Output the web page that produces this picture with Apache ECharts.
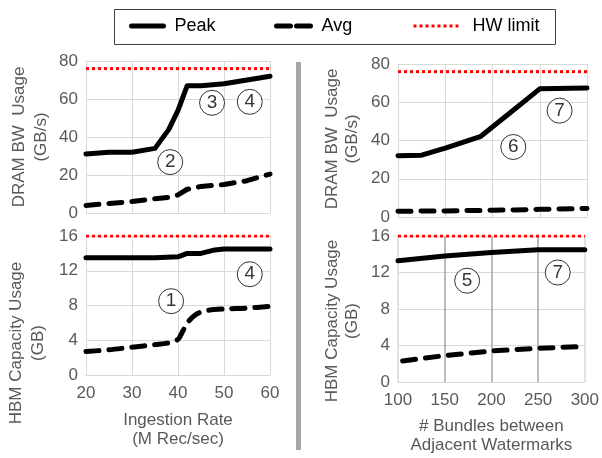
<!DOCTYPE html>
<html><head><meta charset="utf-8">
<script src="https://cdn.jsdelivr.net/npm/echarts@6/dist/echarts.min.js"></script>
<style>html,body{margin:0;padding:0;background:#fff}#c{width:602px;height:458px}</style>
</head><body><div id="c"></div>
<script>
// ---- data ----
const rateTicks = [20, 30, 40, 50, 60];
const bundleTicks = [100, 150, 200, 250, 300];
const dramTicks = [0, 20, 40, 60, 80];
const hbmTicks = [0, 4, 8, 12, 16];

const rateDramPeak = [[20,31],[25,32],[30,32],[35,34],[38,44],[40,54],[42,67],[45,67],[50,68],[55,70],[60,72]];
const rateDramAvg  = [[20,4],[25,5],[30,6],[35,7.5],[38,8.2],[40,9.5],[42,12.5],[45,14],[50,15],[55,17],[60,20.5]];
const rateHbmPeak  = [[20,13.5],[30,13.5],[35,13.5],[40,13.6],[42,14],[45,14],[48,14.4],[50,14.5],[55,14.5],[60,14.5]];
const rateHbmAvg   = [[20,2.7],[25,2.9],[30,3.2],[35,3.5],[38,3.7],[40,4.1],[41,5],[42,6],[44,7],[46,7.4],[50,7.6],[55,7.7],[60,7.9]];
const bundleDramPeak = [[100,32],[125,32.3],[150,36],[187,42],[220,55],[250,67],[300,67.5]];
const bundleDramAvg  = [[100,3],[150,3.2],[200,3.5],[250,4],[300,4.5]];
const bundleHbmPeak  = [[100,13.3],[150,13.8],[200,14.2],[250,14.5],[300,14.5]];
const bundleHbmAvg   = [[105,2.3],[150,2.9],[200,3.4],[250,3.7],[300,3.9]];
const dramLimit = 76;
const hbmLimit = 16;

const notesRateDram = [[38.3,26.8,'2'],[47.4,58,'3'],[55.6,58.5,'4']];
const notesRateHbm  = [[38.5,8.5,'1'],[55.6,11.6,'4']];
const notesBundleDram = [[222,36.6,'6'],[271,55.6,'7']];
const notesBundleHbm  = [[174,11.1,'5'],[271,12,'7']];

const legendNames = ['Peak', 'Avg', 'HW limit'];
const panelNames = {
  yDram: 'DRAM BW  Usage\n(GB/s)',
  yHbm: 'HBM Capacity Usage\n(GB)',
  xRate: 'Ingestion Rate\n(M Rec/sec)',
  xBundle: '# Bundles between\nAdjacent Watermarks'
};

// ---- chart ----
const FONT = 'Liberation Sans, Arial, sans-serif';
const GRAY = '#595959';
const GRID = '#d9d9d9';

function xAx(idx, ticks, showLabels, name, splitColors, nameGap) {
  return {
    type: 'value', gridIndex: idx, min: ticks[0], max: ticks[ticks.length-1],
    interval: ticks[1]-ticks[0],
    axisLine: {show: true, lineStyle: {color: GRID, width: 1}},
    axisTick: {show: false},
    axisLabel: {show: showLabels, color: GRAY, fontSize: 17, fontFamily: FONT, margin: 10},
    splitLine: {show: true, lineStyle: {color: splitColors || GRID, width: splitColors ? 1.5 : 1}},
    name: name || '', nameLocation: 'middle', nameGap: nameGap || 30,
    nameTextStyle: {color: GRAY, fontSize: 17, fontFamily: FONT, lineHeight: 19}
  };
}
function yAx(idx, ticks) {
  return {
    type: 'value', gridIndex: idx, min: ticks[0], max: ticks[ticks.length-1],
    interval: ticks[1]-ticks[0],
    axisLine: {show: false}, axisTick: {show: false},
    axisLabel: {color: GRAY, fontSize: 17, fontFamily: FONT, margin: 8},
    splitLine: {show: true, lineStyle: {color: GRID, width: 1}}
  };
}
function peak(i, data) {
  return {name: 'Peak', type: 'line', xAxisIndex: i, yAxisIndex: i, data: data,
    symbol: 'none', showSymbol: false, z: 3,
    lineStyle: {color: '#000', width: 5, cap: 'round', join: 'round'}, itemStyle: {color: '#000'}};
}
function avg(i, data, smooth) {
  return {name: 'Avg', type: 'line', xAxisIndex: i, yAxisIndex: i, data: data,
    symbol: 'none', showSymbol: false, smooth: smooth || 0, z: 3,
    lineStyle: {color: '#000', width: 5, type: [13, 10], cap: 'round', join: 'round'}, itemStyle: {color: '#000'}};
}
function limit(i, ticks, v) {
  return {name: 'HW limit', type: 'line', xAxisIndex: i, yAxisIndex: i,
    data: [[ticks[0], v], [ticks[ticks.length-1], v]],
    symbol: 'none', showSymbol: false, z: 2,
    lineStyle: {color: '#ff0000', width: 3, type: [3, 3]}, itemStyle: {color: '#ff0000'}};
}
function notes(i, data) {
  return {type: 'scatter', xAxisIndex: i, yAxisIndex: i, data: data, z: 5,
    symbol: 'circle', symbolSize: 25, silent: true,
    itemStyle: {color: '#fff', borderColor: '#000', borderWidth: 1},
    label: {show: true, position: 'inside', color: '#000', fontSize: 19, fontFamily: FONT,
      formatter: p => p.value[2]}};
}
function legendAt(left, name, w, lw, dash) {
  return {data: [name], left: left, top: 17, itemWidth: w, itemHeight: 18, padding: 0,
    selectedMode: false,
    itemStyle: {opacity: 0, borderWidth: 0},
    lineStyle: {width: lw, type: dash},
    textStyle: {color: '#000', fontSize: 18, fontFamily: FONT, padding: [0, 0, 0, 6]}};
}

const chart = echarts.init(document.getElementById('c'), null, {renderer: 'canvas'});
chart.setOption({
  backgroundColor: '#fff',
  animation: false,
  textStyle: {fontFamily: FONT},
  legend: [
    legendAt(129, legendNames[0], 32, 5, 'solid'),
    legendAt(274, legendNames[1], 34, 5, [14, 6]),
    legendAt(412, legendNames[2], 48, 3, [3, 3])
  ],
  grid: [
    {left: 86, right: 332, top: 61, height: 152},
    {left: 86, right: 332, top: 236, height: 139},
    {left: 398, right: 15, top: 64, height: 153},
    {left: 398, right: 15, top: 236, height: 146}
  ],
  xAxis: [
    xAx(0, rateTicks, false),
    xAx(1, rateTicks, true, panelNames.xRate, null, 36),
    xAx(2, bundleTicks, false),
    xAx(3, bundleTicks, true, panelNames.xBundle, [GRID, '#a6a6a6', '#a6a6a6', '#a6a6a6', GRID], 35)
  ],
  yAxis: [yAx(0, dramTicks), yAx(1, hbmTicks), yAx(2, dramTicks), yAx(3, hbmTicks)],
  graphic: [
    {type: 'rect', shape: {x: 296, y: 62, width: 5, height: 388}, style: {fill: '#a6a6a6'}},
    {type: 'rect', shape: {x: 114.5, y: 9.5, width: 441, height: 35}, style: {fill: 'none', stroke: '#404040', lineWidth: 1}, z: -1},
    {type: 'text', x: 30, y: 137, rotation: Math.PI/2,
      style: {text: panelNames.yDram, fill: GRAY, fontSize: 17, fontFamily: FONT, lineHeight: 22, align: 'center', verticalAlign: 'middle'}},
    {type: 'text', x: 27, y: 343, rotation: Math.PI/2,
      style: {text: panelNames.yHbm, fill: GRAY, fontSize: 17, fontFamily: FONT, lineHeight: 22, align: 'center', verticalAlign: 'middle'}},
    {type: 'text', x: 342, y: 139, rotation: Math.PI/2,
      style: {text: panelNames.yDram, fill: GRAY, fontSize: 17, fontFamily: FONT, lineHeight: 20, align: 'center', verticalAlign: 'middle'}},
    {type: 'text', x: 342, y: 321, rotation: Math.PI/2,
      style: {text: panelNames.yHbm, fill: GRAY, fontSize: 17, fontFamily: FONT, lineHeight: 20, align: 'center', verticalAlign: 'middle'}}
  ],
  series: [
    limit(0, rateTicks, dramLimit), peak(0, rateDramPeak), avg(0, rateDramAvg), notes(0, notesRateDram),
    limit(1, rateTicks, hbmLimit), peak(1, rateHbmPeak), avg(1, rateHbmAvg, 0.3), notes(1, notesRateHbm),
    limit(2, bundleTicks, dramLimit), peak(2, bundleDramPeak), avg(2, bundleDramAvg), notes(2, notesBundleDram),
    limit(3, bundleTicks, hbmLimit), peak(3, bundleHbmPeak), avg(3, bundleHbmAvg), notes(3, notesBundleHbm)
  ]
});
</script></body></html>
